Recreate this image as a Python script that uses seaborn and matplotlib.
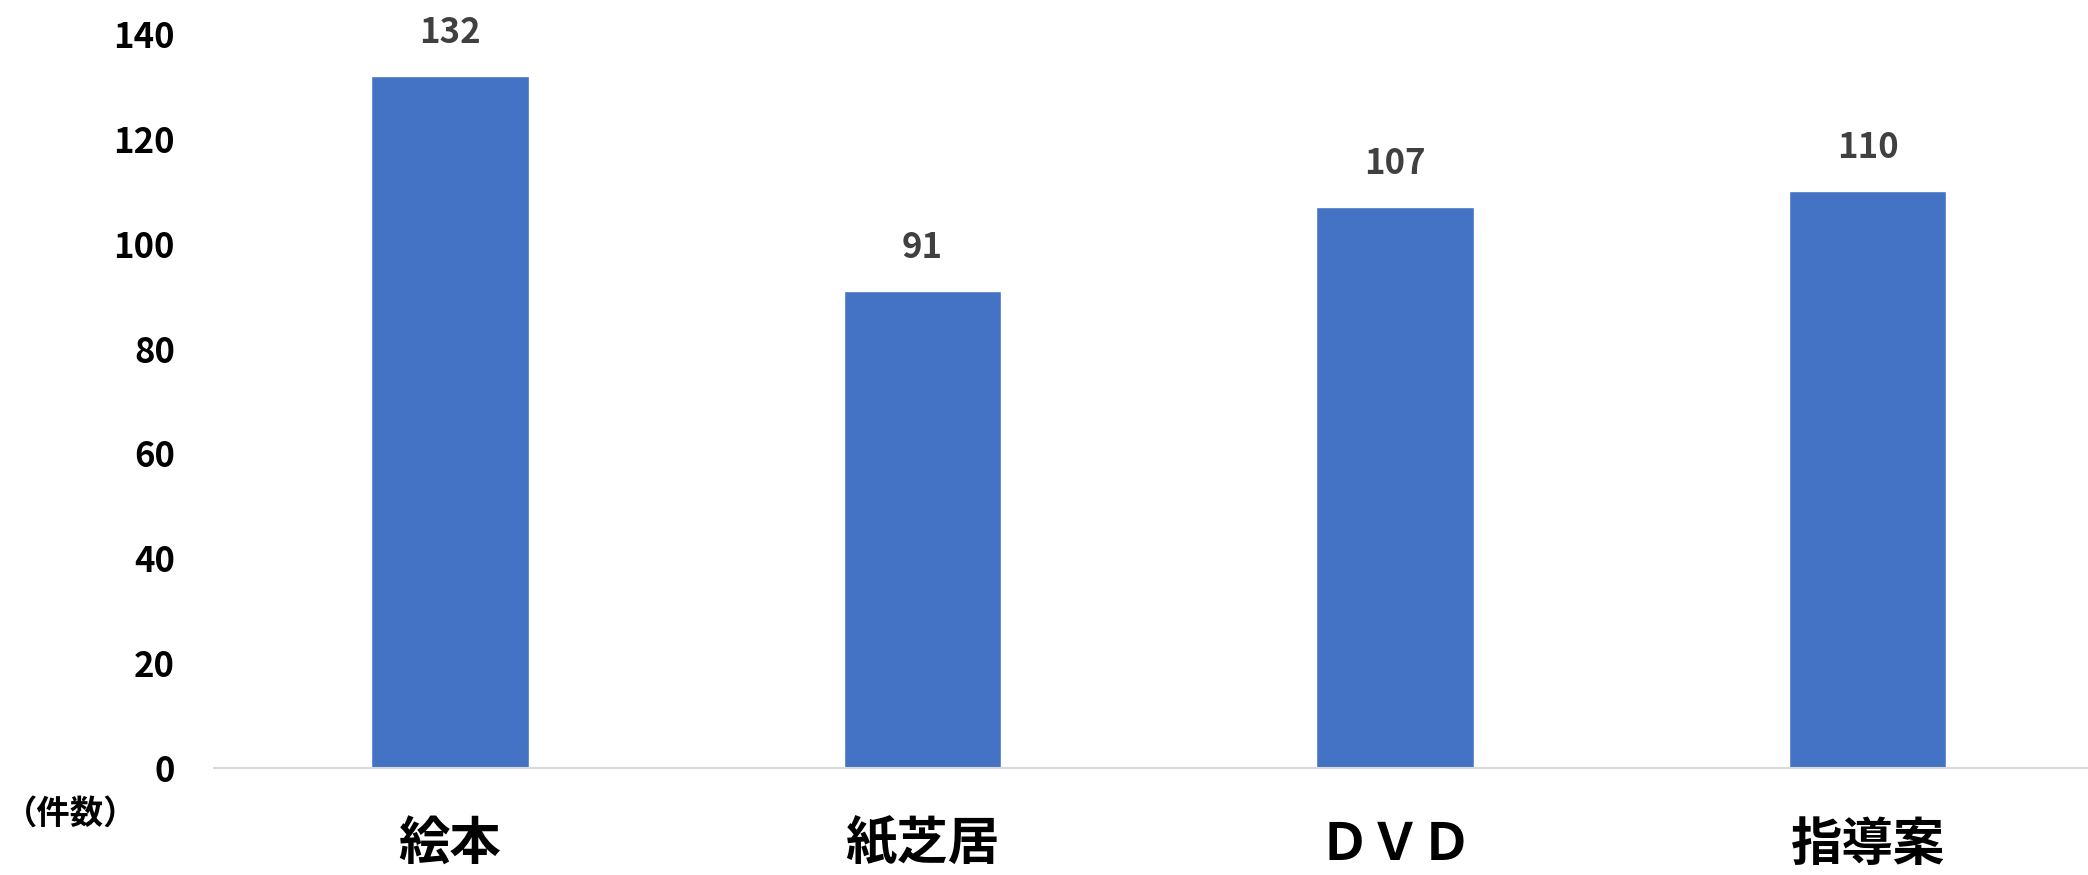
import matplotlib
matplotlib.use("Agg")
import matplotlib.pyplot as plt
import seaborn as sns
import pandas as pd

categories = ["絵本", "紙芝居", "ＤＶＤ", "指導案"]
counts = [132, 91, 107, 110]
y_ticks = [0, 20, 40, 60, 80, 100, 120, 140]
unit_label = "（件数）"

sns.set_theme(style="white")
plt.rcParams['font.family'] = ['Noto Sans CJK JP', 'DejaVu Sans']

df = pd.DataFrame({"cat": categories, "n": counts})

W, H = 2088, 875
fig = plt.figure(figsize=(W / 100, H / 100), dpi=100)
left, right = 213.7, 2104
bottom, top = 768, 34
ax = fig.add_axes([left / W, (H - bottom) / H, (right - left) / W, (bottom - top) / H])

sns.barplot(data=df, x="cat", y="n", color="#4472C4", width=0.333,
            saturation=1, ax=ax)

ax.set_xlim(-0.5, len(categories) - 0.5)
ax.set_ylim(0, 140)
ax.set_yticks(y_ticks)
ax.set_yticklabels([str(t) for t in y_ticks], fontsize=25, fontweight="bold", color="black")
ax.tick_params(axis="y", length=0, pad=28)
ax.tick_params(axis="x", length=0, pad=36)
for lbl in ax.get_xticklabels():
    lbl.set_fontsize(37)
    lbl.set_fontweight("bold")
    lbl.set_color("black")
ax.set_xlabel("")
ax.set_ylabel("")

for s in ["top", "right", "left"]:
    ax.spines[s].set_visible(False)
ax.spines["bottom"].set_color("#d9d9d9")
ax.spines["bottom"].set_linewidth(1.5)

for i, v in enumerate(counts):
    ax.annotate(str(v), (i, v), xytext=(0, 19), textcoords="offset points",
                ha="center", va="bottom", fontsize=25, fontweight="bold", color="#404040")

fig.text(4 / W, (H - 814) / H, unit_label, ha="left", va="center",
         fontsize=24, fontweight="bold", color="black")

fig.savefig("out.png", dpi=100, facecolor="white")
